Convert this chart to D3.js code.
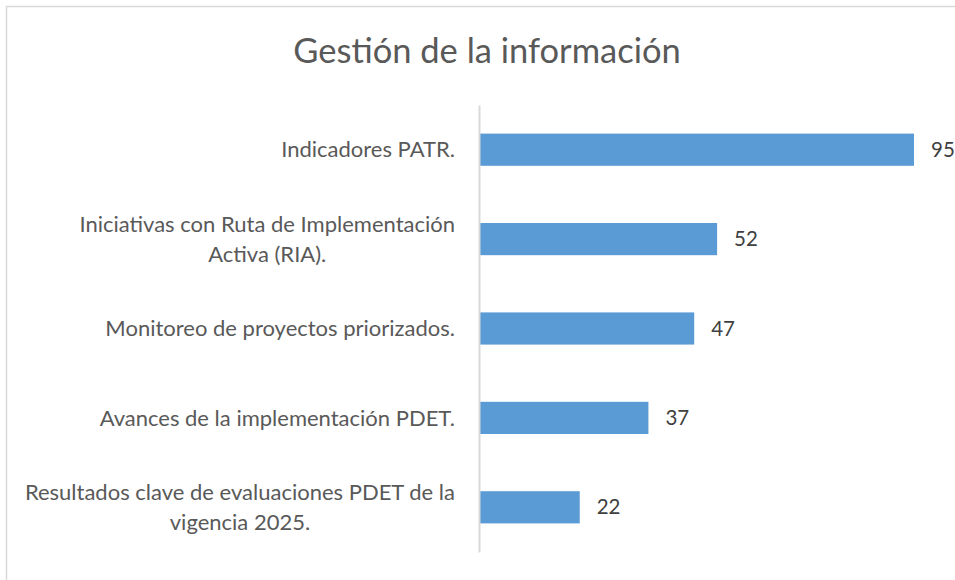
<!DOCTYPE html>
<html>
<head>
<meta charset="utf-8">
<script src="https://cdn.jsdelivr.net/npm/d3@7"></script>
<style>
  body { margin: 0; background: #fff; }
  text { font-family: Lato, "Liberation Sans", sans-serif; }
</style>
</head>
<body>
<div id="chart"></div>
<script>
// data
var title = "Gestión de la información";
var categories = [
  "Indicadores PATR.",
  "Iniciativas con Ruta de Implementación\nActiva (RIA).",
  "Monitoreo de proyectos priorizados.",
  "Avances de la implementación PDET.",
  "Resultados clave de evaluaciones PDET de la\nvigencia 2025."
];
var values = [95, 52, 47, 37, 22];

var width = 955, height = 580;

var svg = d3.select("#chart").append("svg")
  .attr("width", width)
  .attr("height", height);

// chart border (right/bottom run off the picture)
svg.append("rect")
  .attr("x", 6.5).attr("y", 6.5)
  .attr("width", 980).attr("height", 600)
  .attr("fill", "none")
  .attr("stroke", "#d9d9d9")
  .attr("stroke-width", 1.5);

svg.append("text")
  .attr("x", 487).attr("y", 63)
  .attr("text-anchor", "middle")
  .attr("font-size", 34.5)
  .attr("fill", "#595959")
  .text(title);

var x = d3.scaleLinear()
  .domain([0, 100])
  .range([479, 479 + 435 * 100 / 95]);

var y = d3.scaleBand()
  .domain(categories)
  .range([105, 552])
  .paddingInner(0.64)
  .paddingOuter(0.32);

// bars
svg.selectAll("rect.bar")
  .data(values)
  .enter()
  .append("rect")
    .attr("class", "bar")
    .attr("x", x(0))
    .attr("y", function(d, i) { return y(categories[i]); })
    .attr("width", function(d) { return x(d) - x(0); })
    .attr("height", y.bandwidth())
    .attr("fill", "#5b9bd5");

// axis line
var yAxis = svg.append("g")
  .attr("transform", "translate(" + x(0) + ",0)")
  .call(d3.axisLeft(y).tickSize(0).tickSizeOuter(0).tickFormat(""));
yAxis.select(".domain").attr("stroke", "#d9d9d9").attr("stroke-width", 2);

// value labels
svg.selectAll("text.val")
  .data(values)
  .enter()
  .append("text")
    .attr("class", "val")
    .attr("x", function(d) { return x(d) + 17; })
    .attr("y", function(d, i) { return y(categories[i]) + y.bandwidth() / 2; })
    .attr("dy", "0.35em")
    .attr("font-size", 20.5)
    .attr("fill", "#404040")
    .text(function(d) { return d; });

// category labels, wrapped lines centred, block right aligned
var lineH = 30;
categories.forEach(function(c) {
  var lines = c.split("\n");
  var cy = y(c) + y.bandwidth() / 2;
  var g = svg.append("g");
  var texts = lines.map(function(l, j) {
    return g.append("text")
      .attr("y", cy + (j - (lines.length - 1) / 2) * lineH)
      .attr("dy", "0.35em")
      .attr("text-anchor", "middle")
      .attr("font-size", 22)
      .attr("fill", "#595959")
      .text(l);
  });
  var w = d3.max(texts, function(t) { return t.node().getComputedTextLength(); });
  texts.forEach(function(t) { t.attr("x", 455 - w / 2); });
});
</script>
</body>
</html>
